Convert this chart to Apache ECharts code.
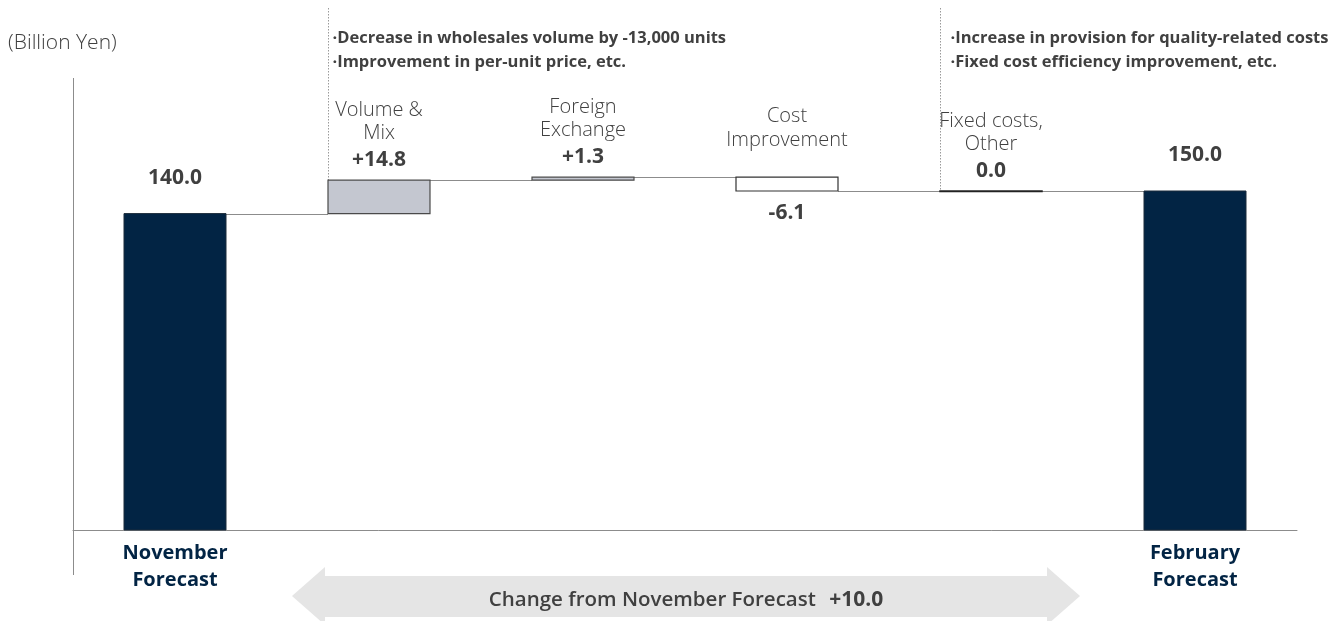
<!DOCTYPE html>
<html>
<head>
<meta charset="utf-8">
<title>Operating profit bridge</title>
<script src="https://cdn.jsdelivr.net/npm/echarts@6/dist/echarts.min.js"></script>
<style>
  html, body { margin: 0; padding: 0; background: #ffffff; }
  #chart { width: 1333px; height: 621px; }
</style>
</head>
<body>
<div id="chart"></div>
<script>
// ---- data ----
const categories = ['November\nForecast', 'Volume &\nMix', 'Foreign\nExchange', 'Cost\nImprovement', 'Fixed costs,\nOther', 'February\nForecast'];
const kinds = ['total', 'delta', 'delta', 'delta', 'delta', 'total'];
const values = [140.0, 14.8, 1.3, -6.1, 0.0, 150.0];
const valueLabels = ['140.0', '+14.8', '+1.3', '-6.1', '0.0', '150.0'];
const notesVolume = ['·Decrease in wholesales volume by -13,000 units', '·Improvement in per-unit price, etc.'];
const notesFixed = ['·Increase in provision for quality-related costs', '·Fixed cost efficiency improvement, etc.'];
const unitLabel = '(Billion Yen)';
const changeText = 'Change from November Forecast';
const changeValue = '+10.0';

// ---- floating segments of the bridge ----
const rows = [];
let running = 0;
values.forEach(function (v, i) {
  if (kinds[i] === 'total') {
    rows.push([i, 0, v]);
    running = v;
  } else {
    rows.push([i, running, running + v]);
    running += v;
  }
});

const FONT = '"Open Sans", "DejaVu Sans", sans-serif';
const NAVY = '#022444';
const TEXT = '#404040';

function renderItem(params, api) {
  const i = api.value(0);
  const a = api.value(1), b = api.value(2);
  const cs = params.coordSys;
  const bw = api.size([1, 0])[0] * 0.5;
  const pa = api.coord([i, a]);
  const pb = api.coord([i, b]);
  const cx = pa[0];
  const top = Math.min(pa[1], pb[1]);
  const bottom = Math.max(pa[1], pb[1]);
  const kind = kinds[i];
  const v = values[i];
  const children = [];

  // vertical axis line, extended below the baseline
  if (i === 0) {
    children.push({
      type: 'line', silent: true,
      shape: { x1: cs.x + 0.5, y1: cs.y, x2: cs.x + 0.5, y2: cs.y + cs.height + 45 },
      style: { stroke: '#8c8c8c', lineWidth: 1 }
    });
  }

  // connector to the next column at the running total
  if (i < rows.length - 1) {
    const lvl = api.coord([i, b])[1];
    const nx = api.coord([i + 1, 0])[0];
    children.push({
      type: 'line', silent: true, z2: 1,
      shape: { x1: cx + bw / 2, y1: Math.round(lvl) + 0.5, x2: nx - bw / 2, y2: Math.round(lvl) + 0.5 },
      style: { stroke: '#8c8c8c', lineWidth: 1 }
    });
  }

  // the bar itself
  let style;
  if (kind === 'total') style = { fill: NAVY, stroke: '#1b2a3a', lineWidth: 1 };
  else if (v > 0) style = { fill: '#c4c7d0', stroke: '#4a4a4a', lineWidth: 1.2 };
  else if (v < 0) style = { fill: '#ffffff', stroke: '#333333', lineWidth: 1.2 };
  else style = { fill: '#222222', stroke: '#222222', lineWidth: 1.5 };
  children.push({
    type: 'rect', z2: 3,
    shape: { x: cx - bw / 2, y: top, width: bw, height: Math.max(bottom - top, 0.5) },
    style: style
  });

  // labels
  if (kind === 'total') {
    children.push({
      type: 'text', z2: 5,
      style: { x: cx, y: top - 36, text: valueLabels[i], align: 'center', verticalAlign: 'middle',
               font: 'bold 21px ' + FONT, fill: TEXT }
    });
  } else if (v >= 0) {
    const lines = categories[i].split('\n').map(function (s) { return '{n|' + s + '}'; }).join('\n');
    children.push({
      type: 'text', z2: 5,
      style: {
        x: cx, y: top - 5, align: 'center', verticalAlign: 'bottom',
        text: lines + '\n{v|' + valueLabels[i] + '}',
        rich: {
          n: { font: '300 20px ' + FONT, fill: TEXT, lineHeight: 23, align: 'center' },
          v: { font: 'bold 21px ' + FONT, fill: TEXT, lineHeight: 30, align: 'center' }
        }
      }
    });
  } else {
    children.push({
      type: 'text', z2: 5,
      style: {
        x: cx, y: top - 25, align: 'center', verticalAlign: 'bottom',
        text: categories[i], font: '300 20px ' + FONT, fill: TEXT, lineHeight: 24
      }
    });
    children.push({
      type: 'text', z2: 5,
      style: { x: cx, y: bottom + 22, text: valueLabels[i], align: 'center', verticalAlign: 'middle',
               font: 'bold 21px ' + FONT, fill: TEXT }
    });
  }

  // explanatory notes with a dotted guide down to the bar
  const notes = i === 1 ? notesVolume : (i === 4 ? notesFixed : null);
  if (notes) {
    const lx = Math.round(cx - bw / 2) + 0.5;
    children.push({
      type: 'line', silent: true,
      shape: { x1: lx, y1: 8, x2: lx, y2: top },
      style: { stroke: '#9a9a9a', lineWidth: 1, lineDash: [1.5, 1.5] }
    });
    const off = i === 1 ? 4 : 10;
    notes.forEach(function (t, k) {
      children.push({
        type: 'text', z2: 5,
        style: { x: lx + off, y: 38 + k * 24, text: t, align: 'left', verticalAlign: 'middle',
                 font: 'bold 16.5px ' + FONT, fill: TEXT }
      });
    });
  }

  return { type: 'group', children: children };
}

const chart = echarts.init(document.getElementById('chart'), null, { renderer: 'canvas' });
chart.setOption({
  animation: false,
  backgroundColor: '#ffffff',
  grid: { left: 73, right: 36, top: 78, bottom: 91, containLabel: false },
  xAxis: {
    type: 'category',
    data: categories,
    boundaryGap: true,
    axisLine: { show: true, lineStyle: { color: '#8c8c8c', width: 1 } },
    axisTick: { show: false },
    axisLabel: {
      interval: 0, margin: 10,
      formatter: function (val, idx) { return kinds[idx] === 'total' ? val : ''; },
      color: NAVY, fontFamily: FONT, fontWeight: 'bold', fontSize: 20, lineHeight: 27
    }
  },
  yAxis: {
    type: 'value', min: 0, max: 200, interval: 50,
    show: false,
    splitLine: { show: false }
  },
  series: [{
    type: 'custom',
    renderItem: renderItem,
    encode: { x: 0, y: [1, 2] },
    data: rows,
    clip: false
  }],
  graphic: [
    {
      type: 'text', left: 8, top: 33,
      style: { text: unitLabel, font: '300 21px ' + FONT, fill: TEXT }
    },
    {
      type: 'polygon', z: -1,
      shape: { points: [[292, 596], [325, 567], [325, 576], [1047, 576], [1047, 567], [1080, 596],
                        [1047, 625], [1047, 617], [325, 617], [325, 625]] },
      style: { fill: '#e5e5e5' }
    },
    {
      type: 'text', z: 2,
      style: {
        x: 686, y: 600, align: 'center', verticalAlign: 'middle',
        text: '{a|' + changeText + '}    {b|' + changeValue + '}',
        rich: {
          a: { font: '600 20.5px ' + FONT, fill: TEXT },
          b: { font: 'bold 21px ' + FONT, fill: TEXT }
        }
      }
    }
  ]
});
</script>
</body>
</html>
